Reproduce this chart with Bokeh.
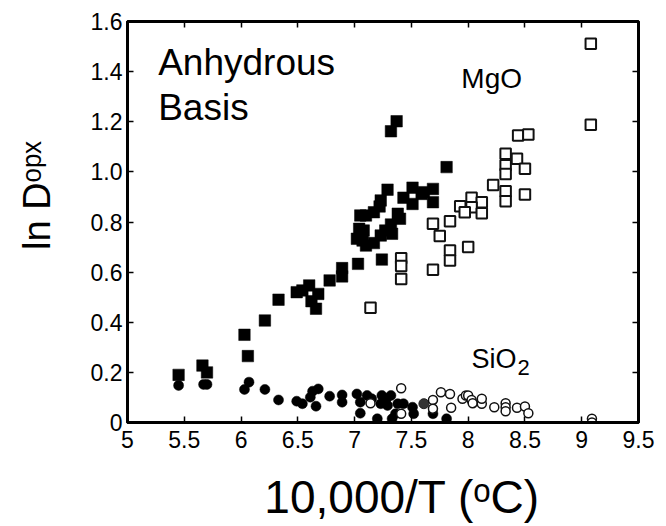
from bokeh.plotting import figure
from bokeh.models import Label, LinearAxis, FixedTicker, Range1d
from bokeh.embed import file_html
from bokeh.resources import INLINE

# ---- data ----
mgo_filled_x = [5.45, 5.66, 5.70, 6.03, 6.06, 6.21, 6.33, 6.49, 6.54, 6.60, 6.68, 6.62, 6.66,
                6.78, 6.89, 6.89, 7.03, 7.24, 7.37, 7.32, 7.81, 7.29, 7.51, 7.69, 7.43, 7.59,
                7.51, 7.69, 7.23, 7.22, 7.17, 7.05, 7.10, 7.38, 7.40, 7.32, 7.04, 7.08, 7.27,
                7.33, 7.23, 7.02, 7.07, 7.17, 7.10, 7.61]
mgo_filled_y = [0.19, 0.227, 0.20, 0.35, 0.265, 0.407, 0.49, 0.52, 0.527, 0.547, 0.513, 0.484, 0.454,
                0.567, 0.616, 0.583, 0.633, 0.65, 1.202, 1.162, 1.019, 0.929, 0.937, 0.932, 0.897, 0.912,
                0.872, 0.879, 0.886, 0.862, 0.839, 0.826, 0.826, 0.833, 0.813, 0.79, 0.773, 0.766, 0.766,
                0.753, 0.746, 0.733, 0.726, 0.716, 0.706, 0.919]

mgo_open_x = [9.08, 9.08, 8.44, 8.53, 8.33, 8.43, 8.50, 8.33, 8.33, 8.22, 8.33, 8.50, 8.33,
              8.03, 8.12, 7.93, 8.03, 7.97, 8.12, 7.84, 7.69, 7.75, 8.00, 7.84, 7.84, 7.69,
              7.41, 7.41, 7.41, 7.14]
mgo_open_y = [1.511, 1.188, 1.145, 1.149, 1.072, 1.052, 1.012, 1.026, 0.992, 0.948, 0.923, 0.910, 0.883,
              0.897, 0.879, 0.863, 0.859, 0.839, 0.835, 0.803, 0.793, 0.744, 0.700, 0.686, 0.646, 0.609,
              0.655, 0.624, 0.573, 0.458]

sio2_filled_x = [5.45, 5.67, 5.70, 6.07, 6.03, 6.21, 6.33, 6.49, 6.54, 6.61, 6.63, 6.68, 6.66,
                 6.78, 6.89, 6.89, 7.02, 7.11, 7.05, 7.05, 7.20, 7.24, 7.32, 7.23, 7.29, 7.38,
                 7.43, 7.33, 7.36, 7.51, 7.52, 7.69, 7.81, 7.28, 7.15]
sio2_filled_y = [0.148, 0.152, 0.152, 0.161, 0.132, 0.132, 0.090, 0.085, 0.075, 0.101, 0.125, 0.134, 0.065,
                 0.105, 0.110, 0.081, 0.114, 0.108, 0.081, 0.037, 0.015, 0.108, 0.108, 0.075, 0.068, 0.075,
                 0.075, 0.015, 0.035, 0.061, 0.035, 0.035, 0.015, 0.095, 0.095]

sio2_gray_x = [7.61]
sio2_gray_y = [0.075]

sio2_open_x = [7.14, 7.41, 7.41, 7.69, 7.69, 7.76, 7.84, 7.85, 7.95, 7.98, 8.00, 8.03, 8.04,
               8.12, 8.12, 8.23, 8.33, 8.33, 8.33, 8.43, 8.50, 8.53, 9.09, 9.09]
sio2_open_y = [0.077, 0.137, 0.035, 0.090, 0.055, 0.121, 0.114, 0.059, 0.095, 0.108, 0.108, 0.090, 0.077,
               0.075, 0.095, 0.061, 0.077, 0.061, 0.045, 0.059, 0.064, 0.037, 0.015, 0.0]

x_ticks = [5, 5.5, 6, 6.5, 7, 7.5, 8, 8.5, 9, 9.5]
x_tick_labels = ["5", "5.5", "6", "6.5", "7", "7.5", "8", "8.5", "9", "9.5"]
y_ticks = [0, 0.2, 0.4, 0.6, 0.8, 1.0, 1.2, 1.4, 1.6]
y_tick_labels = ["0", "0.2", "0.4", "0.6", "0.8", "1.0", "1.2", "1.4", "1.6"]

x_title = "10,000/T (\u1d52C)"
y_title = "ln D\u1d52\u1d56\u02e3"

FONT = "Liberation Sans"
NB = "\u00a0"

p = figure(width=666, height=526, output_backend="svg", toolbar_location=None,
           x_range=Range1d(5, 9.5), y_range=Range1d(0, 1.6),
           min_border_left=127, min_border_right=28, min_border_top=21, min_border_bottom=104)
p.grid.visible = False
p.outline_line_color = "black"
p.outline_line_width = 3
p.background_fill_color = "white"
p.border_fill_color = "white"


def style_axis(ax, ticks, labels):
    ax.ticker = FixedTicker(ticks=ticks)
    ax.major_label_overrides = {t: l for t, l in zip(ticks, labels)}
    ax.major_tick_in = 6
    ax.major_tick_out = 0
    ax.major_tick_line_width = 1.5
    ax.major_tick_line_color = "black"
    ax.minor_tick_line_color = None
    ax.axis_line_color = "black"
    ax.axis_line_width = 3
    ax.major_label_text_font = FONT
    ax.major_label_text_color = "black"
    ax.major_label_text_font_size = "23px"


style_axis(p.xaxis[0], x_ticks, x_tick_labels)
p.xaxis[0].major_label_standoff = 8
p.xaxis[0].axis_label = NB * 3 + x_title
p.xaxis[0].axis_label_text_font = FONT
p.xaxis[0].axis_label_text_font_size = "46px"
p.xaxis[0].axis_label_text_font_style = "normal"
p.xaxis[0].axis_label_text_color = "black"
p.xaxis[0].axis_label_standoff = 20

style_axis(p.yaxis[0], y_ticks, y_tick_labels)
p.yaxis[0].major_label_standoff = 5
p.yaxis[0].axis_label = NB * 5 + y_title
p.yaxis[0].axis_label_text_font = FONT
p.yaxis[0].axis_label_text_font_size = "38px"
p.yaxis[0].axis_label_text_font_style = "normal"
p.yaxis[0].axis_label_text_color = "black"
p.yaxis[0].axis_label_standoff = 30

top = LinearAxis()
style_axis(top, x_ticks, [""] * len(x_ticks))
top.major_label_standoff = 0
p.add_layout(top, "above")
right = LinearAxis()
style_axis(right, y_ticks, [""] * len(y_ticks))
right.major_label_standoff = 0
p.add_layout(right, "right")

# ---- markers ----
p.scatter(mgo_filled_x, mgo_filled_y, marker="square", size=11.5,
          fill_color="black", line_color="black", line_width=0.5)
p.scatter(mgo_open_x, mgo_open_y, marker="square", size=10.5,
          fill_color="white", line_color="#111111", line_width=2)
p.scatter(sio2_filled_x, sio2_filled_y, marker="circle", size=10,
          fill_color="black", line_color="black", line_width=0.5)
p.scatter(sio2_gray_x, sio2_gray_y, marker="circle", size=10,
          fill_color="#333333", line_color="#222222", line_width=1)
p.scatter(sio2_open_x, sio2_open_y, marker="circle", size=9,
          fill_color="white", line_color="#111111", line_width=1.5)


def lab(x, y, text, size, xo=0, yo=0):
    p.add_layout(Label(x=x, y=y, text=text, x_offset=xo, y_offset=yo,
                       text_font=FONT, text_font_size=size, text_color="black",
                       text_align="left", text_baseline="alphabetic"))


# annotations in plot
lab(5.27, 1.398, "Anhydrous", "37px", yo=10)
lab(5.27, 1.216, "Basis", "37px", yo=10)
lab(7.94, 1.332, "MgO", "28px", yo=10)
lab(8.03, 0.217, "SiO", "27px", yo=9)
lab(8.03, 0.217, "2", "22px", xo=46, yo=1)

open("out.html", "w").write(file_html(p, INLINE))
